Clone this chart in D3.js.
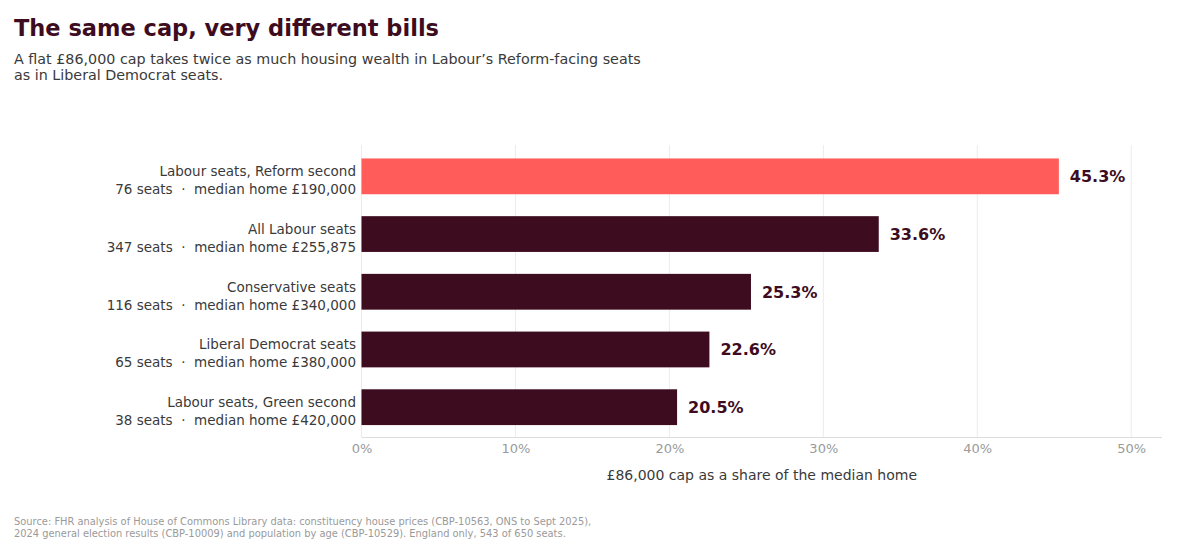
<!DOCTYPE html>
<html><head><meta charset="utf-8">
<script src="https://cdn.jsdelivr.net/npm/d3@7"></script>
<style>
body{margin:0;background:#fff;font-family:"DejaVu Sans",sans-serif;}
</style></head>
<body><svg id="c" width="1204" height="548"></svg>
<script>
const groups = ["Labour seats, Reform second","All Labour seats","Conservative seats","Liberal Democrat seats","Labour seats, Green second"];
const seats = [76,347,116,65,38];
const medianHome = ["£190,000","£255,875","£340,000","£380,000","£420,000"];
const shares = [45.3,33.6,25.3,22.6,20.5];
const highlight = [true,false,false,false,false];
const ticks = [0,10,20,30,40,50];

(function(){
const svg = d3.select("#c");
const pLeft = 361.5, pRight = 1162, pTop = 145, pBottom = 437;
const x = d3.scaleLinear().domain([0,52]).range([pLeft,pRight]);
const y = d3.scaleBand().domain(groups).range([pTop,pBottom]).paddingInner(0.38).paddingOuter(0.22).align(0.53);

svg.append("text").attr("x",14).attr("y",36).attr("font-size",22.5).attr("font-weight","bold").attr("fill","#3d0c1e").text("The same cap, very different bills");
svg.append("text").attr("x",14).attr("y",64).attr("font-size",14.3).attr("fill","#3a3a3a").text("A flat £86,000 cap takes twice as much housing wealth in Labour’s Reform-facing seats");
svg.append("text").attr("x",14).attr("y",80).attr("font-size",14.3).attr("fill","#3a3a3a").text("as in Liberal Democrat seats.");

svg.append("g").selectAll("line").data(ticks).join("line")
  .attr("x1",d=>x(d)).attr("x2",d=>x(d)).attr("y1",pTop).attr("y2",pBottom)
  .attr("stroke","#ebebeb").attr("stroke-width",1);
svg.append("line").attr("x1",pLeft).attr("x2",pRight).attr("y1",pBottom+0.5).attr("y2",pBottom+0.5).attr("stroke","#dddddd");

const ax = svg.append("g").attr("transform",`translate(0,${pBottom})`)
  .call(d3.axisBottom(x).tickValues(ticks).tickFormat(d=>d+"%").tickSize(0).tickPadding(7));
ax.select(".domain").remove();
ax.selectAll("text").attr("font-size",13).attr("fill","#9a9a9a").attr("font-family","DejaVu Sans");

svg.append("text").attr("x",(pLeft+pRight)/2).attr("y",480).attr("text-anchor","middle").attr("font-size",14).attr("fill","#3a3a3a").text("£86,000 cap as a share of the median home");

const data = groups.map((g,i)=>({g,s:seats[i],m:medianHome[i],v:shares[i],h:highlight[i]}));
svg.append("g").selectAll("rect").data(data).join("rect")
  .attr("x",x(0)).attr("y",d=>y(d.g)).attr("width",d=>x(d.v)-x(0)).attr("height",y.bandwidth())
  .attr("fill",d=>d.h?"#ff5c5a":"#3d0c1e");

svg.append("g").selectAll("text").data(data).join("text")
  .attr("x",d=>x(d.v)+11).attr("y",d=>y(d.g)+y.bandwidth()/2+6)
  .attr("font-size",16).attr("font-weight","bold").attr("fill","#3d0c1e")
  .text(d=>d.v.toFixed(1)+"%");

const lab = svg.append("g").selectAll("g").data(data).join("g");
lab.append("text").attr("x",356).attr("y",d=>y(d.g)+y.bandwidth()/2)
  .attr("text-anchor","end").attr("font-size",13.5).attr("fill","#3a3a3a").text(d=>d.g);
lab.append("text").attr("x",356).attr("y",d=>y(d.g)+y.bandwidth()/2+18)
  .attr("text-anchor","end").attr("font-size",13.5).attr("fill","#3a3a3a").style("white-space","pre")
  .text(d=>`${d.s} seats  ·  median home ${d.m}`);

svg.append("text").attr("x",14).attr("y",525).attr("font-size",9.9).attr("fill","#9a9a9a").text("Source: FHR analysis of House of Commons Library data: constituency house prices (CBP-10563, ONS to Sept 2025),");
svg.append("text").attr("x",14).attr("y",537).attr("font-size",9.9).attr("fill","#9a9a9a").text("2024 general election results (CBP-10009) and population by age (CBP-10529). England only, 543 of 650 seats.");
})();
</script></body></html>
